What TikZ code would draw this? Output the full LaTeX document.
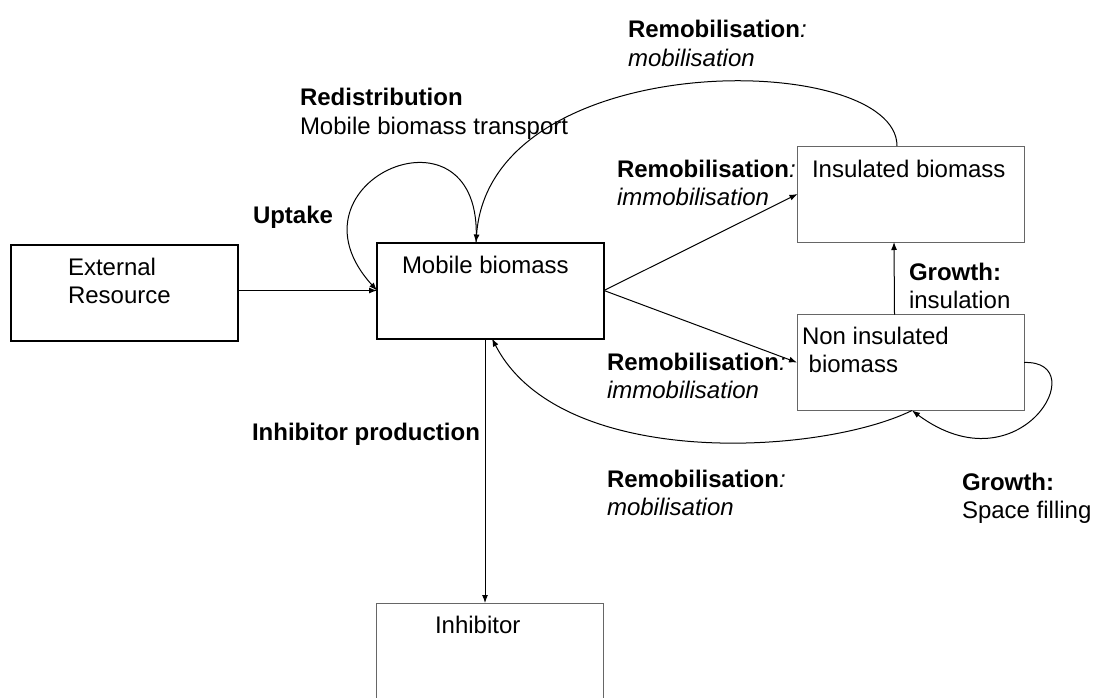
\documentclass[tikz,border=0pt]{standalone}
\usepackage{fontspec}
\setmainfont{Liberation Sans}
\usetikzlibrary{arrows.meta}

\begin{document}
\begin{tikzpicture}[x=1pt,y=-1pt,inner sep=0pt,outer sep=0pt,line width=1pt,
>={Latex[length=8pt,width=6pt]},
font=\fontsize{24}{28.5}\selectfont,
pool/.style={draw,rectangle,line width=2pt,minimum width=227pt,minimum height=96pt},
store/.style={draw=black!60,rectangle,line width=1pt,minimum width=227pt,minimum height=96pt},
txt/.style={anchor=base west,align=left}]

\useasboundingbox (0,0) rectangle (1097,698);

\draw (124.5,293) node[pool] (ext) {};
\draw (490.5,290.5) node[pool] (mob) {};
\draw (911,194) node[store] (ins) {};
\draw (910.5,362.5) node[store] (non) {};
\draw (490,661.5) node[store,minimum height=117pt] (inh) {};

% two-line texts sit on the baseline of their last line
\draw (68,303.5) node[txt] (exttxt) {External\\Resource};
\draw (402,273) node[txt] (mobtxt) {Mobile biomass};
\draw (812,177) node[txt] (instxt) {Insulated biomass};
\draw (802,372.5) node[txt] (nontxt) {Non insulated\\\ biomass};
\draw (435,633) node[txt] (inhtxt) {Inhibitor};

\draw[->] (ext.east |- mob.west) -- (mob.west) ;
\draw[->] (mob.east) -- (ins.west);
\draw[->] (mob.east) -- (non.west);
\draw[->] ([xshift=-16pt]non.north) -- ([xshift=-17pt]ins.south);
\draw[->] ([xshift=-5.5pt]mob.south) -- ([xshift=-5pt]inh.north);

% curved flows
\draw[->] ([xshift=-14pt]ins.north) .. controls +(0,-96) and +(14,-198) .. ([xshift=-14.5pt]mob.north);
\draw[->] ([xshift=-14.5pt]mob.north) .. controls +(9,-150) and +(-100,-110) .. (mob.west);
\draw[->] ([xshift=1.5pt]non.south) .. controls +(-92,45) and +(68,132) .. ([xshift=1.5pt]mob.south);
\draw[->] (non.east) .. controls +(71,-2.5) and +(108,80) .. ([xshift=1.5pt]non.south);

\draw (628,66.5) node[txt] (remobtop) {\textbf{Remobilisation}\textit{:}\\\textit{mobilisation}};
\draw (300,134.5) node[txt] (redist) {\textbf{Redistribution}\\Mobile biomass transport};
\draw (253,223) node[txt] (uptake) {\textbf{Uptake}};
\draw (617,205.5) node[txt] (remobins) {\textbf{Remobilisation}\textit{:}\\\textit{immobilisation}};
\draw (909,308.5) node[txt] (growins) {\textbf{Growth:}\\insulation};
\draw (607,398.5) node[txt] (remobnon) {\textbf{Remobilisation}\textit{:}\\\textit{immobilisation}};
\draw (252,440) node[txt] (inhprod) {\textbf{Inhibitor production}};
\draw (607,515.5) node[txt] (remobbot) {\textbf{Remobilisation}\textit{:}\\\textit{mobilisation}};
\draw (962,518.5) node[txt] (growsp) {\textbf{Growth:}\\Space filling};

\end{tikzpicture}
\end{document}
